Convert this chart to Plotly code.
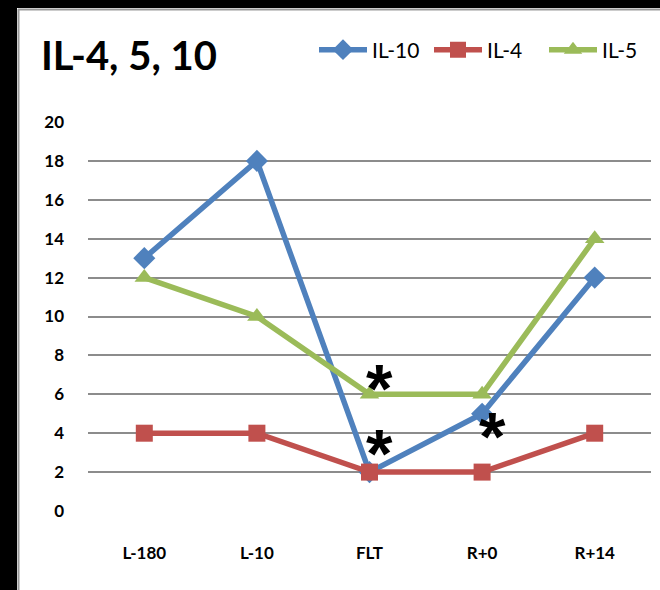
import plotly.graph_objects as go

categories = ["L-180", "L-10", "FLT", "R+0", "R+14"]
il10 = [13, 18, 2, 5, 12]
il4 = [4, 4, 2, 2, 4]
il5 = [12, 10, 6, 6, 14]
y_ticks = list(range(0, 21, 2))
# asterisk annotations: (category, y value)
stars = [("FLT", 6.84), ("FLT", 3.5), ("R+0", 4.35)]

W, H = 660, 590
L, R, T, B = 88, 9, 122, 79

fig = go.Figure()
fig.add_trace(go.Scatter(x=categories, y=il10, name="IL-10", mode="lines+markers",
                         line=dict(color="#4F81BD", width=5.5),
                         marker=dict(symbol="diamond", size=17, color="#4F81BD")))
fig.add_trace(go.Scatter(x=categories, y=il4, name="IL-4", mode="lines+markers",
                         line=dict(color="#C0504D", width=5.5),
                         marker=dict(symbol="square", size=17, color="#C0504D")))
fig.add_trace(go.Scatter(x=categories, y=il5, name="IL-5", mode="lines+markers",
                         line=dict(color="#9BBB59", width=5.5),
                         marker=dict(symbol="triangle-up", size=17, color="#9BBB59")))

for cat, yv in stars:
    fig.add_annotation(x=cat, y=yv, text="<b>*</b>", showarrow=False, xshift=10, yshift=-10,
                       font=dict(family="Liberation Sans, Arial, sans-serif", size=68,
                                 color="black"))

pw, ph = W - L - R, H - T - B
def px(x): return (x - L) / pw
def py(y): return (H - B - y) / ph

shapes = [
    dict(type="rect", xref="paper", yref="paper", x0=px(0), x1=px(17), y0=py(H), y1=py(0),
         fillcolor="black", line=dict(width=0), layer="above"),
    dict(type="rect", xref="paper", yref="paper", x0=px(0), x1=px(W), y0=py(8), y1=py(0),
         fillcolor="black", line=dict(width=0), layer="above"),
    dict(type="line", xref="paper", yref="paper", x0=px(18.5), x1=px(18.5), y0=py(H), y1=py(9),
         line=dict(color="#9a9a9a", width=2)),
    dict(type="line", xref="paper", yref="paper", x0=px(18), x1=px(W), y0=py(9.5), y1=py(9.5),
         line=dict(color="#9a9a9a", width=2)),
]

fig.update_layout(
    width=W, height=H,
    margin=dict(l=L, r=R, t=T, b=B, pad=0, autoexpand=False),
    paper_bgcolor="white", plot_bgcolor="white",
    font=dict(family="Lato, sans-serif", color="black"),
    title=dict(text="<b>IL-4, 5, 10</b>", x=41 / W, xanchor="left", xref="container",
               y=1 - 56 / H, yanchor="middle", yref="container",
               font=dict(size=40, color="black")),
    showlegend=True,
    legend=dict(orientation="h", xref="container", yref="container",
                x=314 / W, xanchor="left", y=1 - 50 / H, yanchor="middle",
                font=dict(size=21, color="black"), itemwidth=48, tracegroupgap=0,
                entrywidth=52, entrywidthmode="pixels",
                bgcolor="rgba(0,0,0,0)"),
    xaxis=dict(range=[-0.5, len(categories) - 0.5], autorange=False,
               showgrid=False, showline=False, zeroline=False, ticks="", automargin=False,
               tickfont=dict(size=17, color="black"), ticklabelstandoff=30),
    yaxis=dict(range=[0, 20], tickvals=y_ticks, showgrid=True, gridcolor="#8c8c8c",
               gridwidth=2, zeroline=False, showline=False, ticks="", automargin=False,
               tickfont=dict(size=17, color="black"), ticklabelstandoff=23),
    shapes=shapes,
)
fig.update_xaxes(ticktext=[f"<b>{c}</b>" for c in categories], tickvals=categories)
fig.update_yaxes(ticktext=[f"<b>{v}</b>" for v in y_ticks])

fig.write_html("out.html", config=dict(displayModeBar=False),
               post_script="document.body.style.margin='0';document.body.style.padding='0';")
